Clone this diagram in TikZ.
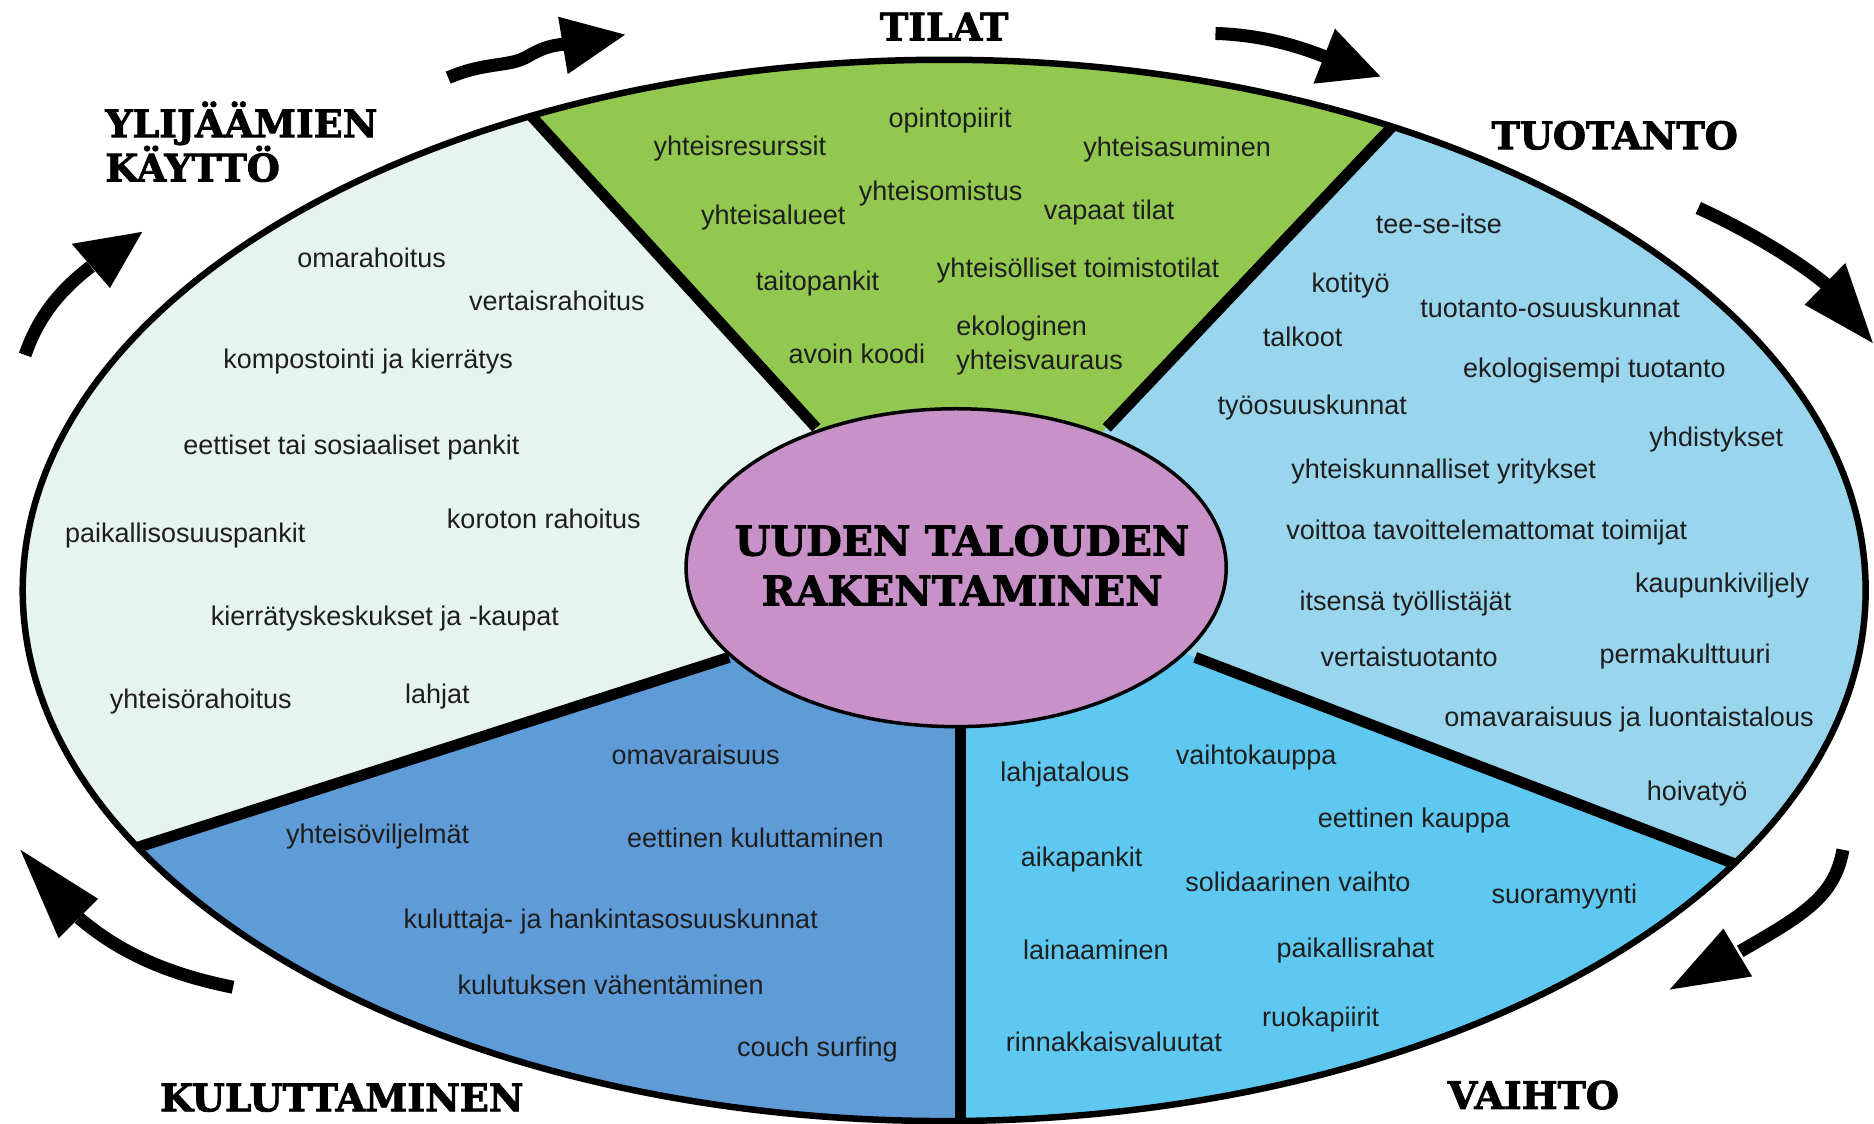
\documentclass[tikz,border=0pt]{standalone}
\usepackage{fontspec}
\newfontfamily\lblfont{Liberation Sans}
\newfontfamily\headfont{DejaVu Serif}[FakeBold=2.2]
\definecolor{cgreen}{RGB}{146,200,80}
\definecolor{cltblue}{RGB}{153,213,236}
\definecolor{cskyblue}{RGB}{95,200,240}
\definecolor{cmedblue}{RGB}{95,155,215}
\definecolor{cpale}{RGB}{230,244,240}
\definecolor{cpurple}{RGB}{200,145,200}
\definecolor{ctext}{RGB}{30,30,30}
\begin{document}
\begin{tikzpicture}[x=1.1952pt,y=-1.1952pt,
  lbl/.style={font=\lblfont\fontsize{27}{30}\selectfont, text=ctext, inner sep=0pt, text height=0.72em, text depth=0.21em, yshift=-7pt},
  head/.style={font=\headfont\bfseries\fontsize{38}{42}\selectfont, text=black, inner sep=0pt, text height=0.73em, text depth=0pt, yshift=-10.5pt},
  corefont/.style={font=\headfont\bfseries\fontsize{41}{50}\selectfont, text=black, inner sep=0pt, align=center},
  divider/.style={line width=11pt, black},
  shaft/.style={line width=13pt, black, line cap=butt},
  tip/.style={fill=black, draw=none}]
\useasboundingbox (0,0) rectangle (1568,940.4);
\fill[white] (0,0) rectangle (1568,940.4);

% inner/outer divider end points
\coordinate (c) at (802,475);
\coordinate (TLi) at (683,358); \coordinate (TLo) at (217,-152);
\coordinate (TRi) at (926,358); \coordinate (TRo) at (1394,-136);
\coordinate (RLi) at (1000,550); \coordinate (RLo) at (1904,896);
\coordinate (Bi) at (804,607); \coordinate (Bo) at (804,1100);
\coordinate (LLi) at (610,550); \coordinate (LLo) at (-380,868);

\begin{scope}
  \clip (790,494) ellipse [x radius=771, y radius=444];
  \fill[cpale] (-100,-300) rectangle (1700,1200);
  \fill[cgreen] (TLi) -- (TLo) -- (TRo) -- (TRi) -- (c) -- cycle;
  \fill[cltblue] (TRi) -- (TRo) -- (2000,-300) -- (2000,896) -- (RLo) -- (RLi) -- (c) -- cycle;
  \fill[cskyblue] (RLi) -- (RLo) -- (1904,1200) -- (804,1200) -- (Bi) -- (c) -- cycle;
  \fill[cmedblue] (Bi) -- (804,1200) -- (-400,1200) -- (LLo) -- (LLi) -- (c) -- cycle;
  \draw[divider] (TLi) -- (TLo);
  \draw[divider] (TRi) -- (TRo);
  \draw[divider] (RLi) -- (RLo);
  \draw[divider] (Bi) -- (Bo);
  \draw[divider] (LLi) -- (LLo);
\end{scope}
\draw[line width=6.5pt] (790,494) ellipse [x radius=771, y radius=444];
\draw[line width=3.5pt, fill=cpurple] (800,475) ellipse [x radius=226, y radius=133];

\node[corefont] (core) at (805,473) {UUDEN TALOUDEN\\RAKENTAMINEN};

% headings
\node[head] (tilat) at (790,22) {TILAT};
\node[head, anchor=west] (ylij) at (88,103) {YLIJÄÄMIEN};
\node[head, anchor=west] (kaytto) at (88,140) {KÄYTTÖ};
\node[head] (tuotanto) at (1351,113) {TUOTANTO};
\node[head] (kulut) at (286,918) {KULUTTAMINEN};
\node[head] (vaihto) at (1283,916) {VAIHTO};

% arrows
\draw[shaft] (375,65) .. controls (405,52) and (425,56) .. (440,48) .. controls (452,41) and (460,38) .. (472,37);
\fill[tip] (467,14) -- (523,29) -- (475,62) -- cycle;
\draw[shaft] (1017,28) .. controls (1050,29) and (1080,36) .. (1110,48);
\fill[tip] (1117,24) -- (1155,64) -- (1099,70) -- cycle;
\draw[shaft] (1421,174) .. controls (1460,192) and (1500,215) .. (1528,238);
\fill[tip] (1544,220) -- (1567,287) -- (1510,255) -- cycle;
\draw[shaft] (1542,711) .. controls (1535,750) and (1510,765) .. (1456,796);
\fill[tip] (1442,777) -- (1466,817) -- (1397,828) -- cycle;
\draw[shaft] (195,826) .. controls (140,815) and (100,797) .. (66,768);
\fill[tip] (82,752) -- (49,785) -- (17,711) -- cycle;
\draw[shaft] (21,297) .. controls (32,265) and (50,243) .. (76,223);
\fill[tip] (60,204) -- (92,241) -- (119,194) -- cycle;

% left sector
\node[lbl] (l1) at (311,216) {omarahoitus};
\node[lbl] (l2) at (466,252) {vertaisrahoitus};
\node[lbl] (l3) at (308,300) {kompostointi ja kierrätys};
\node[lbl] (l4) at (294,372) {eettiset tai sosiaaliset pankit};
\node[lbl] (l5) at (155,446) {paikallisosuuspankit};
\node[lbl] (l6) at (455,434) {koroton rahoitus};
\node[lbl] (l7) at (322,515) {kierrätyskeskukset ja -kaupat};
\node[lbl] (l8) at (168,585) {yhteisörahoitus};
\node[lbl] (l9) at (366,581) {lahjat};

% green sector
\node[lbl] (g1) at (795,99) {opintopiirit};
\node[lbl] (g2) at (619,122) {yhteisresurssit};
\node[lbl] (g3) at (985,123) {yhteisasuminen};
\node[lbl] (g4) at (787,160) {yhteisomistus};
\node[lbl] (g5) at (647,180) {yhteisalueet};
\node[lbl] (g6) at (928,176) {vapaat tilat};
\node[lbl] (g7) at (684,235) {taitopankit};
\node[lbl] (g8) at (902,224) {yhteisölliset toimistotilat};
\node[lbl] (g9) at (717,296) {avoin koodi};
\node[lbl, anchor=west] (g10) at (800,273) {ekologinen};
\node[lbl, anchor=west] (g11) at (800,301) {yhteisvauraus};

% production sector
\node[lbl] (t1) at (1204,187) {tee-se-itse};
\node[lbl] (t2) at (1130,237) {kotityö};
\node[lbl] (t3) at (1297,258) {tuotanto-osuuskunnat};
\node[lbl] (t4) at (1090,282) {talkoot};
\node[lbl] (t5) at (1334,308) {ekologisempi tuotanto};
\node[lbl] (t6) at (1098,339) {työosuuskunnat};
\node[lbl] (t7) at (1436,366) {yhdistykset};
\node[lbl] (t8) at (1208,392) {yhteiskunnalliset yritykset};
\node[lbl] (t9) at (1244,443) {voittoa tavoittelemattomat toimijat};
\node[lbl] (t10) at (1441,488) {kaupunkiviljely};
\node[lbl] (t11) at (1176,503) {itsensä työllistäjät};
\node[lbl] (t12) at (1179,550) {vertaistuotanto};
\node[lbl] (t13) at (1410,547) {permakulttuuri};
\node[lbl] (t14) at (1363,600) {omavaraisuus ja luontaistalous};
\node[lbl] (t15) at (1420,662) {hoivatyö};

% exchange sector
\node[lbl] (v1) at (891,646) {lahjatalous};
\node[lbl] (v2) at (1051,632) {vaihtokauppa};
\node[lbl] (v3) at (1183,684) {eettinen kauppa};
\node[lbl] (v4) at (905,717) {aikapankit};
\node[lbl] (v5) at (1086,738) {solidaarinen vaihto};
\node[lbl] (v6) at (1309,748) {suoramyynti};
\node[lbl] (v7) at (917,795) {lainaaminen};
\node[lbl] (v8) at (1134,793) {paikallisrahat};
\node[lbl] (v9) at (1105,851) {ruokapiirit};
\node[lbl] (v10) at (932,872) {rinnakkaisvaluutat};

% consumption sector
\node[lbl] (k1) at (582,632) {omavaraisuus};
\node[lbl] (k2) at (316,698) {yhteisöviljelmät};
\node[lbl] (k3) at (632,701) {eettinen kuluttaminen};
\node[lbl] (k4) at (511,769) {kuluttaja- ja hankintasosuuskunnat};
\node[lbl] (k5) at (511,824) {kulutuksen vähentäminen};
\node[lbl] (k6) at (684,876) {couch surfing};
\end{tikzpicture}
\end{document}
